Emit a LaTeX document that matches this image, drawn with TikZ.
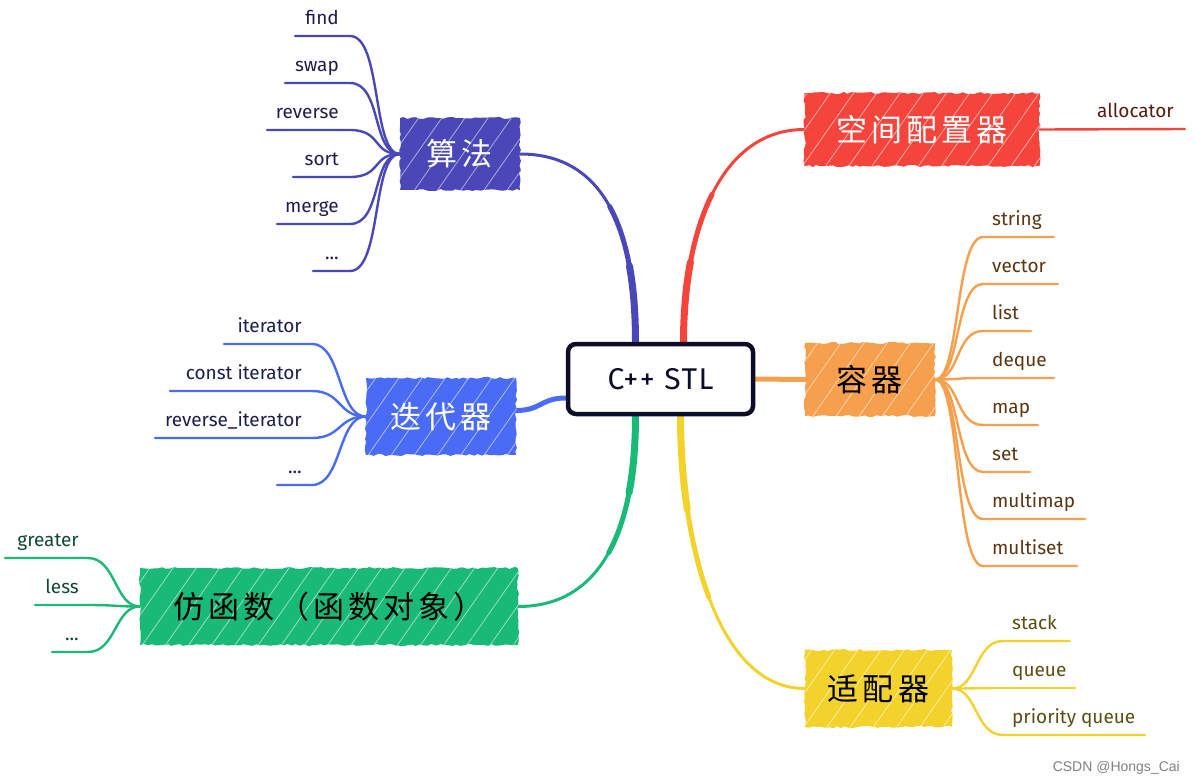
\documentclass[tikz,border=0pt]{standalone}
\usepackage{fontspec}
\setmainfont{Fira Sans}
\newfontfamily\cjk[LetterSpace=13]{Noto Sans CJK SC}
\newfontfamily\stlfont[LetterSpace=5]{Fira Sans}
\newfontfamily\wmfont{Liberation Sans}
\usetikzlibrary{patterns.meta,calc,backgrounds,decorations.pathmorphing}
\newcommand\leafdots{.{}.{}.}
\definecolor{algoC}{HTML}{4A47B9}
\definecolor{algoT}{HTML}{1E1E4E}
\definecolor{allocC}{HTML}{F5443B}
\definecolor{allocT}{HTML}{5C1A0E}
\definecolor{contC}{HTML}{F6A04D}
\definecolor{contT}{HTML}{5A3510}
\definecolor{iterC}{HTML}{4A6BF5}
\definecolor{iterT}{HTML}{1A1F4E}
\definecolor{funcC}{HTML}{19B978}
\definecolor{funcT}{HTML}{0E4A30}
\definecolor{adaptC}{HTML}{F2D22B}
\definecolor{adaptT}{HTML}{5A4E10}
\definecolor{stlC}{HTML}{0D0D2A}
\tikzset{
  stlbox/.style={draw=stlC, line width=4.5pt, fill=white, rounded corners=8pt,
    minimum width=185pt, minimum height=70pt, inner sep=0pt,
    font=\stlfont\fontsize{30}{34}\selectfont, text=stlC},
  topic/.style={inner sep=0pt, fill=#1,
    decorate, decoration={random steps, segment length=4pt, amplitude=1.1pt},
    font=\cjk\fontsize{31}{36}\selectfont,
    postaction={pattern={Lines[angle=55,distance=19pt,line width=0.8pt]}, pattern color=white!55!#1}},
  edge/.style={draw=#1, line cap=round},
  leafline/.style={draw=#1, line width=2.4pt, line cap=round},
  leafR/.style={anchor=base east, inner sep=0pt, font=\fontsize{19}{21}\selectfont},
  leafL/.style={anchor=base west, inner sep=0pt, font=\fontsize{19}{21}\selectfont},
}
% tapered connector: thin at the topic, thick at the centre
\newcommand\drawtaper[5]{%
  \coordinate (tp0) at (#2); \coordinate (tc1) at (#3);
  \coordinate (tc2) at (#4); \coordinate (tp3) at (#5);
  \coordinate (tm) at ($0.125*(tp0)+0.375*(tc1)+0.375*(tc2)+0.125*(tp3)$);
  \coordinate (tq1) at ($0.25*(tc1)+0.5*(tc2)+0.25*(tp3)$);
  \coordinate (tq2) at ($0.5*(tc2)+0.5*(tp3)$);
  \coordinate (tn) at ($0.125*(tm)+0.375*(tq1)+0.375*(tq2)+0.125*(tp3)$);
  \coordinate (tr1) at ($0.25*(tq1)+0.5*(tq2)+0.25*(tp3)$);
  \coordinate (tr2) at ($0.5*(tq2)+0.5*(tp3)$);
  \draw[edge=#1, line width=3pt] (tp0) .. controls (tc1) and (tc2) .. (tp3);
  \draw[edge=#1, line width=5pt] (tm) .. controls (tq1) and (tq2) .. (tp3);
  \draw[edge=#1, line width=7pt] (tn) .. controls (tr1) and (tr2) .. (tp3);
}
\begin{document}
\begin{tikzpicture}[x=1pt,y=-1pt]
\useasboundingbox (0,0) rectangle (1195,782);
% central and topic nodes
\node[stlbox] (stl) at (660.5,379) {C++ STL};
\node[topic=algoC, text=white, minimum width=120pt, minimum height=72pt] (algo) at (460,154) {算法};
\node[topic=allocC, text=white, minimum width=235pt, minimum height=73pt] (alloc) at (922,129.5) {空间配置器};
\node[topic=contC, text=black, minimum width=130pt, minimum height=73pt] (cont) at (870,379.5) {容器};
\node[topic=iterC, text=white, minimum width=150pt, minimum height=77pt] (iter) at (441,416.5) {迭代器};
\node[topic=funcC, text=black, minimum width=378pt, minimum height=77pt] (func) at (329,606.5) {仿函数（函数对象）\hspace{12pt}};
\node[topic=adaptC, text=black, minimum width=147pt, minimum height=77pt] (adapt) at (878.5,688.5) {适配器};

% leaves: algorithms
\foreach \n/\txt/\y/\l in {1/find/36/295, 2/swap/83/285, 3/reverse/130/267, 4/sort/177/293, 5/merge/224/277, 6/\leafdots/271/313}{
  \node[leafR, text=algoT] (a\n) at (339,\y-12) {\txt};
  \coordinate (a\n r) at (350,\y);
  \coordinate (a\n l) at (\l,\y);
}
% leaves: iterators
\foreach \n/\txt/\y/\l in {1/iterator/344/224, 2/const iterator/391/170, 3/reverse\_iterator/438/155, 4/\leafdots/485/277}{
  \node[leafR, text=iterT] (i\n) at (302,\y-12) {\txt};
  \coordinate (i\n r) at (312,\y);
  \coordinate (i\n l) at (\l,\y);
}
% leaves: functors
\foreach \n/\txt/\y/\l in {1/greater/558/5, 2/less/605/35, 3/\leafdots/652/52}{
  \node[leafR, text=funcT] (f\n) at (79,\y-12) {\txt};
  \coordinate (f\n r) at (88,\y);
  \coordinate (f\n l) at (\l,\y);
}
% leaves: containers
\foreach \n/\txt/\y/\r in {1/string/237/1054, 2/vector/284/1058, 3/list/331/1031, 4/deque/378/1054, 5/map/425/1038, 6/set/472/1030, 7/multimap/519/1085, 8/multiset/566/1077}{
  \node[leafL, text=contT] (c\n) at (992,\y-12) {\txt};
  \coordinate (c\n l) at (983,\y);
  \coordinate (c\n r) at (\r,\y);
}
% leaves: adapters
\foreach \n/\txt/\y/\r in {1/stack/641/1070, 2/queue/688/1075, 3/priority queue/735/1145}{
  \node[leafL, text=adaptT] (d\n) at (1012,\y-12) {\txt};
  \coordinate (d\n l) at (1003,\y);
  \coordinate (d\n r) at (\r,\y);
}
% allocator leaf
\node[leafL, text=allocT] (al1) at (1097,117) {allocator};
\coordinate (al1r) at (1185,129);

\node[anchor=base east, inner sep=0pt, text=black!50, font=\wmfont\fontsize{14}{16}\selectfont] (wm) at (1180,771) {CSDN @Hongs\_Cai};

\begin{scope}[on background layer]
\fill[white] (0,0) rectangle (1195,782);
% main edges
\drawtaper{algoC}{algo.east}{$(algo.east)+(85,0)$}{$([xshift=-25pt]stl.north)+(0,-110)$}{[xshift=-25pt]stl.north}
\drawtaper{allocC}{alloc.west}{$(alloc.west)+(-85,0)$}{$([xshift=23pt]stl.north)+(0,-110)$}{[xshift=23pt]stl.north}
\drawtaper{funcC}{func.east}{$(func.east)+(85,0)$}{$([xshift=-25pt]stl.south)+(0,110)$}{[xshift=-25pt]stl.south}
\drawtaper{adaptC}{adapt.west}{$(adapt.west)+(-90,0)$}{$([xshift=20pt]stl.south)+(0,120)$}{[xshift=20pt]stl.south}
\draw[edge=contC, line width=5pt] (cont.west) -- (stl.east);
\draw[edge=iterC, line width=5pt] ([yshift=6pt]iter.east) .. controls +(25,0) and +(-25,0) .. ([yshift=-19pt]stl.west);
% leaf lines
\foreach \n in {1,2,3,4,5,6}{
  \draw[leafline=algoC] (algo.west) .. controls +(-28,0) and +(32,0) .. (a\n r) -- (a\n l);
}
\foreach \n in {1,2,3,4}{
  \draw[leafline=iterC] (iter.west) .. controls +(-28,0) and +(30,0) .. (i\n r) -- (i\n l);
}
\foreach \n in {1,2,3}{
  \draw[leafline=funcC] (func.west) .. controls +(-25,0) and +(28,0) .. (f\n r) -- (f\n l);
}
\foreach \n in {1,2,3,4,5,6,7,8}{
  \draw[leafline=contC] (cont.east) .. controls +(25,0) and +(-28,0) .. (c\n l) -- (c\n r);
}
\foreach \n in {1,2,3}{
  \draw[leafline=adaptC] (adapt.east) .. controls +(25,0) and +(-28,0) .. (d\n l) -- (d\n r);
}
\draw[leafline=allocC] (alloc.east) -- (al1r);
\end{scope}
\end{tikzpicture}
\end{document}
